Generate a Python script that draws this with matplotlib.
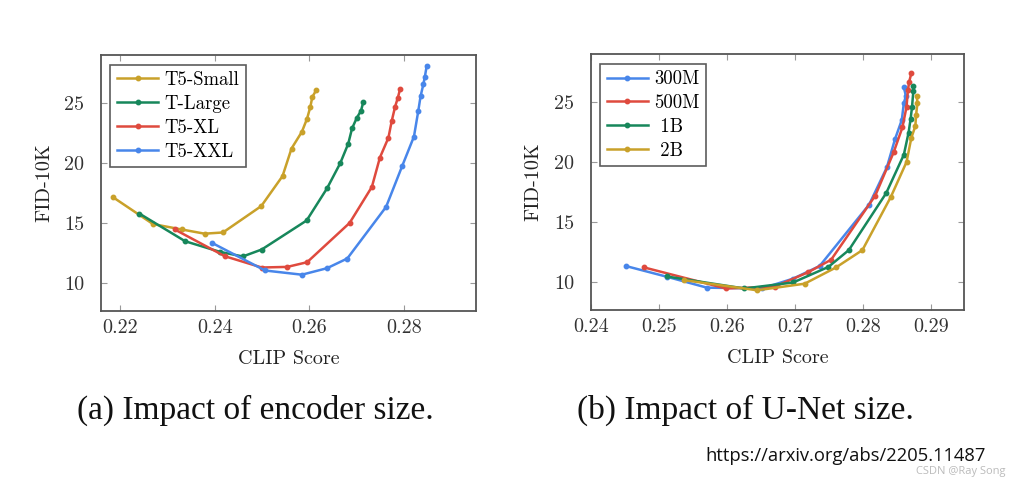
import matplotlib
matplotlib.use("Agg")
import matplotlib.pyplot as plt

# (a) encoder size
small_x = [0.2184, 0.2269, 0.2330, 0.2378, 0.2417, 0.2498, 0.2543, 0.2562, 0.2584, 0.2595, 0.2602, 0.2606, 0.2614]
small_y = [17.15, 14.9, 14.45, 14.1, 14.2, 16.4, 18.9, 21.2, 22.6, 23.7, 24.7, 25.5, 26.05]
large_x = [0.2240, 0.2337, 0.2411, 0.2459, 0.2499, 0.2594, 0.2637, 0.2665, 0.2682, 0.2690, 0.2700, 0.2709, 0.2714]
large_y = [15.78, 13.47, 12.58, 12.2, 12.78, 15.2, 17.87, 19.97, 21.6, 22.87, 23.75, 24.35, 25.1]
xl_x = [0.2315, 0.2421, 0.2499, 0.2553, 0.2595, 0.2685, 0.2732, 0.2749, 0.2767, 0.2774, 0.2781, 0.2787, 0.2792]
xl_y = [14.45, 12.22, 11.28, 11.33, 11.72, 15.0, 18.0, 20.45, 22.1, 23.5, 24.67, 25.45, 26.2]
xxl_x = [0.2393, 0.2506, 0.2584, 0.2637, 0.2680, 0.2762, 0.2796, 0.2821, 0.2830, 0.2835, 0.2841, 0.2844, 0.2848]
xxl_y = [13.35, 11.03, 10.68, 11.22, 12.03, 16.33, 19.73, 22.2, 24.3, 25.56, 26.58, 27.17, 28.1]

# (b) U-Net size
m300_x = [0.2451, 0.2511, 0.2570, 0.2651, 0.2697, 0.2736, 0.2809, 0.2835, 0.2847, 0.2857, 0.2860, 0.2863, 0.2860]
m300_y = [11.32, 10.43, 9.52, 9.45, 10.27, 11.32, 16.45, 19.55, 21.9, 23.5, 24.9, 25.5, 26.25]
m500_x = [0.2478, 0.2598, 0.2670, 0.2719, 0.2753, 0.2818, 0.2845, 0.2858, 0.2864, 0.2866, 0.2868, 0.2871]
m500_y = [11.2, 9.45, 9.6, 10.8, 11.85, 17.2, 20.8, 22.9, 24.6, 26.0, 26.7, 27.4]
b1_x = [0.2511, 0.2625, 0.2697, 0.2749, 0.2779, 0.2834, 0.2860, 0.2867, 0.2870, 0.2872, 0.2874, 0.2874]
b1_y = [10.45, 9.45, 9.95, 11.25, 12.65, 17.4, 20.6, 22.45, 23.6, 24.55, 25.9, 26.3]
b2_x = [0.2536, 0.2644, 0.2714, 0.2760, 0.2799, 0.2841, 0.2864, 0.2871, 0.2877, 0.2878, 0.2880, 0.2879]
b2_y = [10.15, 9.3, 9.85, 11.2, 12.65, 17.1, 20.0, 22.0, 23.0, 23.9, 24.9, 25.5]

yellow = "#c9a12a"
green = "#17875b"
red = "#df4a3e"
blue = "#4886ea"

plt.rcParams["font.family"] = ["cmr10", "DejaVu Serif"]
plt.rcParams["axes.formatter.use_mathtext"] = True

fig = plt.figure(figsize=(10.16, 4.8), dpi=100)
ax1 = fig.add_axes([0.0994, 0.352, 0.369, 0.533])
ax2 = fig.add_axes([0.5814, 0.354, 0.3677, 0.533])

style = dict(marker="o", markersize=3.2, linewidth=1.8)

ax1.plot(small_x, small_y, color=yellow, label="T5-Small", **style)
ax1.plot(large_x, large_y, color=green, label="T-Large", **style)
ax1.plot(xl_x, xl_y, color=red, label="T5-XL", **style)
ax1.plot(xxl_x, xxl_y, color=blue, label="T5-XXL", **style)
ax1.set_xlim(0.2159, 0.2952)
ax1.set_xticks([0.22, 0.24, 0.26, 0.28])
ax1.set_xticklabels(["0.22", "0.24", "0.26", "0.28"])

ax2.plot(m300_x, m300_y, color=blue, label="300M", **style)
ax2.plot(m500_x, m500_y, color=red, label="500M", **style)
ax2.plot(b1_x, b1_y, color=green, label=" 1B", **style)
ax2.plot(b2_x, b2_y, color=yellow, label=" 2B", **style)
ax2.set_xlim(0.2399, 0.2949)
ax2.set_xticks([0.24, 0.25, 0.26, 0.27, 0.28, 0.29])
ax2.set_xticklabels(["0.24", "0.25", "0.26", "0.27", "0.28", "0.29"])

for ax in (ax1, ax2):
    ax.set_ylim(7.65, 28.98)
    ax.set_yticks([10, 15, 20, 25])
    ax.set_yticklabels(["10", "15", "20", "25"])
    ax.tick_params(direction="in", top=True, right=True, length=4, width=0.8,
                   color="#999999", labelsize=14.5, labelcolor="#333333")
    ax.tick_params(axis="x", pad=6)
    ax.tick_params(axis="y", pad=12)
    for s in ax.spines.values():
        s.set_color("#555555")
        s.set_linewidth(1.3)
    ax.set_xlabel("CLIP Score", fontsize=14.5, color="#222222", labelpad=9)
    ax.set_ylabel("FID-10K", fontsize=14.5, color="#222222", labelpad=8)
    leg = ax.legend(loc="upper left", fontsize=13.5, frameon=True, fancybox=False,
                    handlelength=2.2, handletextpad=0.35, labelspacing=0.32,
                    borderaxespad=0.5, borderpad=0.35)
    leg.get_frame().set_edgecolor("#333333")
    leg.get_frame().set_linewidth(1.2)

fig.text(0.251, 0.145, "(a) Impact of encoder size.", family="Liberation Serif",
         fontsize=24, ha="center", va="center", color="#111111")
fig.text(0.734, 0.145, "(b) Impact of U-Net size.", family="Liberation Serif",
         fontsize=24, ha="center", va="center", color="#111111")
fig.text(0.694, 0.049, "https://arxiv.org/abs/2205.11487", fontsize=13.2,
         family="Open Sans", ha="left", va="center", color="#111111")
fig.text(0.99, 0.018, "CSDN @Ray Song", fontsize=8, family="Open Sans",
         ha="right", va="center", color="#bbbbbb")

fig.savefig("out.png", dpi=100)
